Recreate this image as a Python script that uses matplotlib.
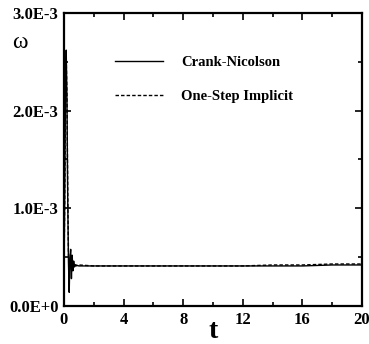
import matplotlib
matplotlib.use("Agg")
import matplotlib.pyplot as plt
from matplotlib.ticker import MultipleLocator, FixedFormatter, FixedLocator

# time samples and vorticity (x1e-3) for the two schemes
t_cn = [0.0, 0.05, 0.1, 0.15, 0.2, 0.25, 0.3, 0.35, 0.4, 0.45, 0.5, 0.55,
        0.6, 0.65, 0.7, 0.8, 1.0, 2.0, 4.0, 6.0, 8.0, 10.0, 12.0, 14.0,
        16.0, 18.0, 20.0]
w_cn = [0.30, 1.20, 2.20, 2.62, 2.10, 1.10, 0.45, 0.14, 0.50, 0.58, 0.28,
        0.52, 0.36, 0.46, 0.40, 0.42, 0.41, 0.41, 0.41, 0.41, 0.41, 0.41,
        0.41, 0.41, 0.41, 0.42, 0.42]

t_im = [0.0, 0.05, 0.1, 0.15, 0.2, 0.25, 0.3, 0.35, 0.4, 0.45, 0.5, 0.55,
        0.6, 0.7, 0.8, 1.0, 2.0, 4.0, 6.0, 8.0, 10.0, 12.0, 14.0, 16.0,
        18.0, 20.0]
w_im = [0.30, 1.10, 2.10, 2.55, 2.15, 1.20, 0.55, 0.30, 0.48, 0.52, 0.36,
        0.47, 0.40, 0.44, 0.41, 0.42, 0.41, 0.41, 0.41, 0.41, 0.41, 0.41,
        0.42, 0.42, 0.43, 0.43]

x_ticks = [0, 4, 8, 12, 16, 20]
y_ticks = [0.0, 1.0, 2.0, 3.0]
y_labels = ["0.0E+0", "1.0E-3", "2.0E-3", "3.0E-3"]

font = "Liberation Serif"

fig = plt.figure(figsize=(3.69, 3.44), dpi=100)
ax = fig.add_axes([0.1734, 0.1105, 0.8077, 0.8517])

ax.plot(t_cn, w_cn, color="black", lw=1.0, label="Crank-Nicolson")
ax.plot(t_im, w_im, color="black", lw=1.0, ls=(0, (2.5, 1.5)),
        label="One-Step Implicit")

ax.set_xlim(0, 20)
ax.set_ylim(0, 3.0)
ax.xaxis.set_major_locator(FixedLocator(x_ticks))
ax.xaxis.set_minor_locator(MultipleLocator(2))
ax.yaxis.set_major_locator(FixedLocator(y_ticks))
ax.yaxis.set_major_formatter(FixedFormatter(y_labels))
ax.yaxis.set_minor_locator(MultipleLocator(0.5))

ax.tick_params(which="both", direction="in", top=True, right=True,
               width=1.2)
ax.tick_params(which="major", length=5, pad=4)
ax.tick_params(which="minor", length=3)
for lab in ax.get_xticklabels() + ax.get_yticklabels():
    lab.set_fontfamily(font)
    lab.set_fontweight("bold")
    lab.set_fontsize(12)
for s in ax.spines.values():
    s.set_linewidth(1.6)

leg = ax.legend(loc="upper left", bbox_to_anchor=(0.172, 0.854),
                frameon=False, borderpad=0, borderaxespad=0,
                handlelength=3.3, handletextpad=1.2,
                labelspacing=1.4,
                prop={"family": font, "weight": "bold", "size": 10.5})

fig.text(0.055, 0.875, "ω", family=font, fontsize=17, ha="center",
         va="center")
fig.text(0.578, 0.035, "t", family=font, fontweight="bold", fontsize=20,
         ha="center", va="center")

fig.savefig("out.png", dpi=100)
